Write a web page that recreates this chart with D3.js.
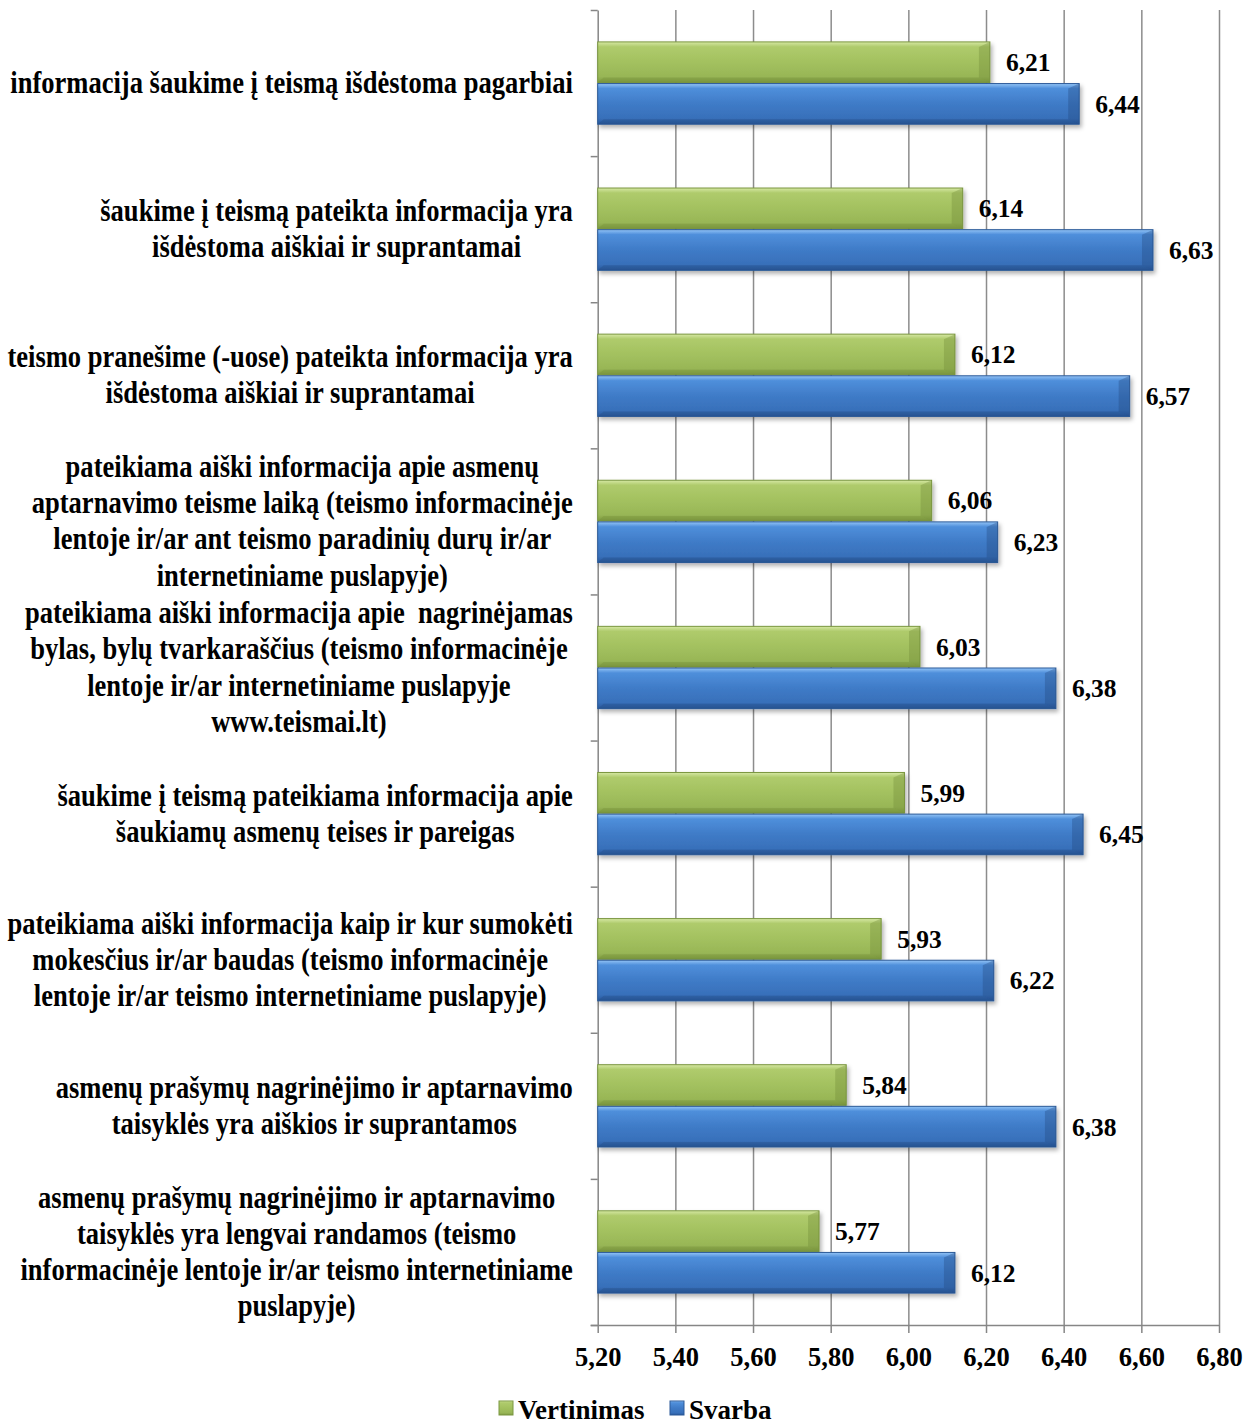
<!DOCTYPE html>
<html>
<head>
<meta charset="utf-8">
<script src="https://cdn.jsdelivr.net/npm/d3@7"></script>
<style>
  body { margin: 0; background: #fff; }
  text { font-family: "Liberation Serif", "Times New Roman", serif; font-weight: bold; fill: #000; }
</style>
</head>
<body>
<div id="chart"></div>
<script>
// category labels, already split into lines as in the original chart
const categories = [
    ["informacija šaukime į teismą išdėstoma pagarbiai"],
    ["šaukime į teismą pateikta informacija yra", "išdėstoma aiškiai ir suprantamai"],
    ["teismo pranešime (-uose) pateikta informacija yra", "išdėstoma aiškiai ir suprantamai"],
    ["pateikiama aiški informacija apie asmenų", "aptarnavimo teisme laiką (teismo informacinėje", "lentoje ir/ar ant teismo paradinių durų ir/ar", "internetiniame puslapyje)"],
    ["pateikiama aiški informacija apie\u00a0 nagrinėjamas", "bylas, bylų tvarkaraščius (teismo informacinėje", "lentoje ir/ar internetiniame puslapyje", "www.teismai.lt)"],
    ["šaukime į teismą pateikiama informacija apie", "šaukiamų asmenų teises ir pareigas"],
    ["pateikiama aiški informacija kaip ir kur sumokėti", "mokesčius ir/ar baudas (teismo informacinėje", "lentoje ir/ar teismo internetiniame puslapyje)"],
    ["asmenų prašymų nagrinėjimo ir aptarnavimo", "taisyklės yra aiškios ir suprantamos"],
    ["asmenų prašymų nagrinėjimo ir aptarnavimo", "taisyklės yra lengvai randamos (teismo", "informacinėje lentoje ir/ar teismo internetiniame", "puslapyje)"]
];
const seriesNames = ["Vertinimas", "Svarba"];
const vertinimas = [6.21, 6.14, 6.12, 6.06, 6.03, 5.99, 5.93, 5.84, 5.77];
const svarba = [6.44, 6.63, 6.57, 6.23, 6.38, 6.45, 6.22, 6.38, 6.12];
const xTicks = [5.2, 5.4, 5.6, 5.8, 6.0, 6.2, 6.4, 6.6, 6.8];

const W = 1249, H = 1424;
const plotLeft = 597.7, plotRight = 1219, plotTop = 10, plotBottom = 1325;
const fmt = d => d.toFixed(2).replace(".", ",");

const svg = d3.select("#chart").append("svg")
    .attr("width", W)
    .attr("height", H);

const defs = svg.append("defs");
function grad(id, stops) {
    const g = defs.append("linearGradient").attr("id", id)
        .attr("x1", 0).attr("y1", 0).attr("x2", 0).attr("y2", 1);
    stops.forEach(s => g.append("stop").attr("offset", s[0]).attr("stop-color", s[1]));
}
grad("gGreen", [[0, "#d6e8a4"], [0.12, "#afcb6c"], [0.5, "#a3c15f"], [0.85, "#98b656"], [1, "#7e9a41"]]);
grad("gBlue", [[0, "#93c4f6"], [0.12, "#4f8fdb"], [0.5, "#3f7bc7"], [0.85, "#3870ba"], [1, "#28579a"]]);
defs.append("filter").attr("id", "shadow")
    .attr("x", "-5%").attr("y", "-20%").attr("width", "110%").attr("height", "160%")
    .append("feDropShadow")
    .attr("dx", 2).attr("dy", 3).attr("stdDeviation", 2)
    .attr("flood-color", "#000").attr("flood-opacity", 0.3);

const x = d3.scaleLinear().domain([5.2, 6.8]).range([plotLeft, plotRight]);

const y = d3.scaleBand()
    .domain(d3.range(categories.length))
    .range([plotTop, plotBottom])
    .paddingInner(0.43)
    .paddingOuter(0.215);

const ySub = d3.scaleBand()
    .domain(seriesNames)
    .range([0, y.bandwidth()]);

// gridlines
svg.append("g")
    .attr("transform", `translate(0,${plotTop})`)
    .call(d3.axisBottom(x).tickValues(xTicks.slice(1)).tickSize(plotBottom - plotTop).tickFormat(""))
    .call(g => g.select(".domain").remove())
    .call(g => g.selectAll("line").attr("stroke", "#8c8c8c").attr("stroke-width", 1.5));

// left axis with ticks at category borders
const yEdge = d3.scaleLinear().domain([0, categories.length]).range([plotTop, plotBottom]);
svg.append("g")
    .attr("transform", `translate(${plotLeft},0)`)
    .call(d3.axisLeft(yEdge).tickValues(d3.range(categories.length + 1)).tickSize(7).tickSizeOuter(0).tickFormat(""))
    .call(g => g.selectAll("line, path").attr("stroke", "#868686").attr("stroke-width", 1.5));

// bottom axis
svg.append("g")
    .attr("transform", `translate(0,${plotBottom})`)
    .call(d3.axisBottom(x).tickValues(xTicks).tickSize(8).tickSizeOuter(0).tickFormat(fmt).tickPadding(14))
    .call(g => g.select(".domain").attr("d", `M${plotLeft - 7},0.5H${plotRight}`))
    .call(g => g.selectAll("line, path").attr("stroke", "#868686").attr("stroke-width", 1.5))
    .call(g => g.selectAll("text").style("font-size", "26.5px").attr("fill", "#000"));

// bars
const rows = categories.map((c, i) => ({i, vals: [
    {s: "Vertinimas", v: vertinimas[i], fill: "url(#gGreen)", edge: "#7b9740", dark: "#6f8a36"},
    {s: "Svarba", v: svarba[i], fill: "url(#gBlue)", edge: "#2c5b99", dark: "#22497f"}
]}));

const groups = svg.append("g").selectAll("g")
    .data(rows)
    .enter()
    .append("g")
    .attr("transform", d => `translate(0,${y(d.i)})`);

const bars = groups.selectAll("g.bar")
    .data(d => d.vals)
    .enter()
    .append("g")
    .attr("class", "bar");

bars.append("rect")
    .attr("x", x(5.2))
    .attr("y", d => ySub(d.s) + 0.5)
    .attr("width", d => x(d.v) - x(5.2))
    .attr("height", ySub.bandwidth() - 1)
    .attr("fill", d => d.fill)
    .attr("stroke", d => d.edge)
    .attr("stroke-width", 1)
    .attr("filter", "url(#shadow)");

// bevel at the bar end
bars.append("path")
    .attr("d", d => {
        const xe = x(d.v), y0 = ySub(d.s) + 0.5, y1 = y0 + ySub.bandwidth() - 1;
        return `M${xe - 11},${y0 + 5}L${xe},${y0}L${xe},${y1}L${xe - 11},${y1 - 5}Z`;
    })
    .attr("fill", d => d.dark)
    .attr("opacity", 0.35);
bars.append("path")
    .attr("d", d => {
        const xe = x(d.v), y0 = ySub(d.s) + 0.5, y1 = y0 + ySub.bandwidth() - 1;
        return `M${xe - 11},${y1 - 5}L${xe},${y1}L${x(5.2)},${y1}L${x(5.2) + 6},${y1 - 5}Z`;
    })
    .attr("fill", d => d.dark)
    .attr("opacity", 0.3);

bars.append("text")
    .attr("x", d => x(d.v) + 16)
    .attr("y", d => ySub(d.s) + ySub.bandwidth() / 2)
    .attr("dy", "0.35em")
    .style("font-size", "25.5px")
    .text(d => fmt(d.v));

// category labels: tall, slightly narrow type; block right edge at 573, lines centred in the block
const labelRight = 573, lineH = 36.2, squeeze = 0.83;
categories.forEach((lines, i) => {
    const cy = y(i) + y.bandwidth() / 2 + 10;
    const g = svg.append("g");
    const t = g.selectAll("text")
        .data(lines)
        .enter()
        .append("text")
        .attr("y", (d, k) => (k - (lines.length - 1) / 2) * lineH)
        .attr("text-anchor", "middle")
        .style("font-size", "32px")
        .text(d => d);
    let maxW = 0;
    t.each(function() { maxW = Math.max(maxW, this.getComputedTextLength()); });
    g.attr("transform", `translate(${labelRight - maxW * squeeze / 2},${cy}) scale(${squeeze},1)`);
});

// legend
const legend = svg.append("g").attr("transform", "translate(499,1401)");
const legendX = [0, 171];
seriesNames.forEach((s, k) => {
    const lg = legend.append("g").attr("transform", `translate(${legendX[k]},0)`);
    lg.append("rect")
        .attr("width", 14).attr("height", 14)
        .attr("fill", k === 0 ? "url(#gGreen)" : "url(#gBlue)")
        .attr("stroke", k === 0 ? "#7b9740" : "#2c5b99");
    lg.append("text")
        .attr("x", 19)
        .attr("y", 18)
        .style("font-size", "27px")
        .text(s);
});
</script>
</body>
</html>
